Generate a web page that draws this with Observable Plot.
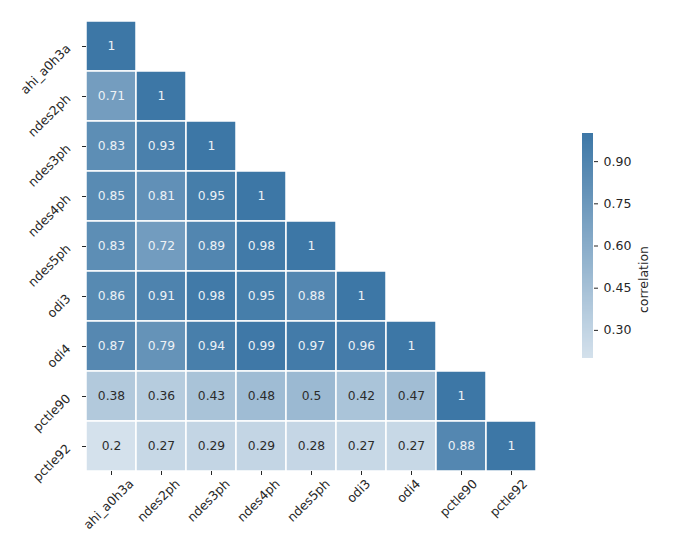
<!DOCTYPE html>
<html><head><meta charset="utf-8">
<script src="https://cdn.jsdelivr.net/npm/d3@7"></script>
<script src="https://cdn.jsdelivr.net/npm/@observablehq/plot@0.6"></script>
<style>
body{margin:0;background:#fff;}
#wrap{position:relative;width:673px;height:547px;font-family:"DejaVu Sans",sans-serif;}
#wrap svg{position:absolute;top:0;}
</style></head><body><div id="wrap"></div>
<script>
const variables = ["ahi_a0h3a","ndes2ph","ndes3ph","ndes4ph","ndes5ph","odi3","odi4","pctle90","pctle92"];
const corrRows = [
  [1],
  [0.71, 1],
  [0.83, 0.93, 1],
  [0.85, 0.81, 0.95, 1],
  [0.83, 0.72, 0.89, 0.98, 1],
  [0.86, 0.91, 0.98, 0.95, 0.88, 1],
  [0.87, 0.79, 0.94, 0.99, 0.97, 0.96, 1],
  [0.38, 0.36, 0.43, 0.48, 0.5, 0.42, 0.47, 1],
  [0.2, 0.27, 0.29, 0.29, 0.28, 0.27, 0.27, 0.88, 1]
];
const colorTicks = [0.3, 0.45, 0.6, 0.75, 0.9];
const colorDomain = [0.2, 1];
const colorRange = ["#d4e1ec", "#3d77a6"];
const colorLabel = "correlation";

const data = corrRows.flatMap((row, i) => row.map((v, j) => ({row: variables[i], col: variables[j], value: v})));
const colorOpts = {type: "linear", domain: colorDomain, range: colorRange, interpolate: "rgb"};
const FS = 12.5;
const font = {fontFamily: "DejaVu Sans, sans-serif", fontSize: FS + "px", color: "#262626", background: "transparent", overflow: "visible"};

// measure label widths so rotated x labels can be centred under their ticks (matplotlib style)
const ctx = document.createElement("canvas").getContext("2d");
ctx.font = FS + "px 'DejaVu Sans'";
const textW = s => ctx.measureText(s).width;

const main = Plot.plot({
  width: 560, height: 547,
  marginLeft: 86, marginRight: 24, marginTop: 21, marginBottom: 76,
  style: font,
  x: {type: "band", domain: variables, padding: 0, round: false, label: null},
  y: {type: "band", domain: variables, padding: 0, round: false, label: null},
  color: colorOpts,
  marks: [
    Plot.cell(data, {x: "col", y: "row", fill: "value", stroke: "white", strokeWidth: 1.5}),
    Plot.text(data.filter(d => d.value >= 0.6), {x: "col", y: "row", text: d => String(d.value), fill: "#eef2f6", fontSize: 12.3}),
    Plot.text(data.filter(d => d.value < 0.6), {x: "col", y: "row", text: d => String(d.value), fill: "#2b2b2b", fontSize: 12.3}),
    Plot.axisY({tickSize: 4, tickRotate: -45, tickPadding: 14, label: null}),
    Plot.axisX({tickSize: 4, text: null, label: null}),
    ...variables.map(v => Plot.text([v], {
      x: d => d, frameAnchor: "bottom", rotate: -45, textAnchor: "middle",
      dy: 13 + textW(v) * 0.354, fontSize: FS, fill: "#262626"
    }))
  ]
});
main.style.left = "0px";

const step = 0.004;
const strips = d3.range(colorDomain[0], colorDomain[1] - 1e-9, step).map(a => ({y1: a, y2: Math.min(a + step * 1.5, colorDomain[1]), v: a + step / 2}));

const bar = Plot.plot({
  width: 100, height: 547,
  marginLeft: 12, marginRight: 77, marginTop: 133, marginBottom: 189,
  style: font,
  x: {domain: [0, 1], axis: null},
  y: {domain: colorDomain, axis: "right", ticks: colorTicks, tickFormat: ".2f", tickSize: 4, tickPadding: 6, label: null},
  color: colorOpts,
  marks: [
    Plot.rect(strips, {x1: 0, x2: 1, y1: "y1", y2: "y2", fill: "v", shapeRendering: "crispEdges"}),
    Plot.text([colorLabel], {text: d => d, frameAnchor: "right", rotate: -90, dx: 50, fontSize: FS, fill: "#262626"})
  ]
});
bar.style.left = "570px";

const wrap = document.getElementById("wrap");
wrap.appendChild(main);
wrap.appendChild(bar);
</script></body></html>
